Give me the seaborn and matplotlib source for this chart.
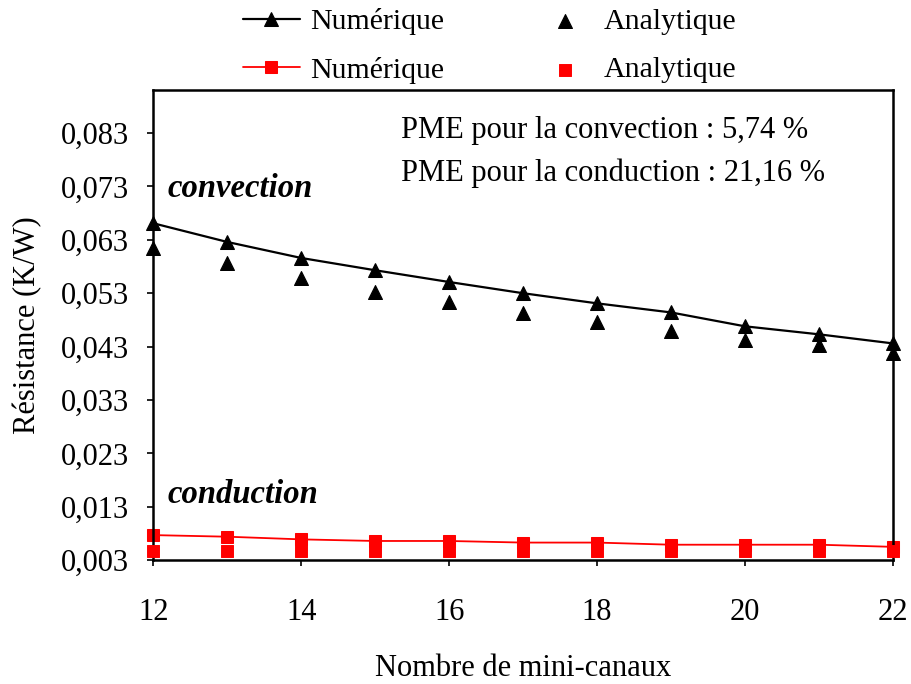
import numpy as np
import pandas as pd
import matplotlib
matplotlib.use("Agg")
import matplotlib.pyplot as plt
import seaborn as sns
from matplotlib.ticker import FuncFormatter, FixedLocator

# Data
canaux = [12, 13, 14, 15, 16, 17, 18, 19, 20, 21, 22]
conv_num = [0.0661, 0.0626, 0.0596, 0.0573, 0.0551, 0.0530, 0.0511, 0.0494, 0.0468, 0.0453, 0.0436]
conv_ana = [0.0614, 0.0586, 0.0558, 0.0532, 0.0513, 0.0493, 0.0476, 0.0459, 0.0442, 0.0433, 0.0418]
cond_num = [0.0077, 0.0074, 0.0069, 0.0066, 0.0066, 0.0063, 0.0063, 0.0059, 0.0059, 0.0059, 0.0055]
cond_ana = [0.0047, 0.0047, 0.0047, 0.0047, 0.0047, 0.0047, 0.0047, 0.0047, 0.0047, 0.0047, 0.0047]

yticks = [0.003, 0.013, 0.023, 0.033, 0.043, 0.053, 0.063, 0.073, 0.083]
xticks = [12, 14, 16, 18, 20, 22]

df = pd.DataFrame({"n": canaux, "conv_num": conv_num, "conv_ana": conv_ana,
                   "cond_num": cond_num, "cond_ana": cond_ana})

sns.set_style("ticks")
plt.rcParams["font.family"] = ["Liberation Serif", "DejaVu Serif"]
plt.rcParams["font.size"] = 22
for k in ["text.color", "axes.labelcolor", "xtick.color", "ytick.color"]:
    plt.rcParams[k] = "black"

fig = plt.figure(figsize=(9.12, 6.84), dpi=100)
ax = fig.add_axes([0.168, 0.181, 0.811, 0.687])

sns.lineplot(data=df, x="n", y="conv_num", ax=ax, color="black", lw=1.6,
             marker="^", markersize=10, markeredgecolor="black", label="Numérique")
sns.scatterplot(data=df, x="n", y="conv_ana", ax=ax, color="black", marker="^",
                s=100, edgecolor="black", label="Analytique", zorder=3)
sns.lineplot(data=df, x="n", y="cond_num", ax=ax, color="red", lw=1.3,
             marker="s", markersize=8.5, markeredgecolor="red", label="Numérique")
sns.scatterplot(data=df, x="n", y="cond_ana", ax=ax, color="red", marker="s",
                s=72, edgecolor="red", label="Analytique", zorder=3)

for art in ax.lines + ax.collections:
    art.set_clip_on(False)

ax.set_xlim(12, 22)
ax.set_ylim(0.003, 0.091)
ax.xaxis.set_major_locator(FixedLocator(xticks))
ax.yaxis.set_major_locator(FixedLocator(yticks))
ax.yaxis.set_major_formatter(FuncFormatter(lambda v, p: f"{v:.3f}".replace(".", ",")))
ax.tick_params(axis="both", labelsize=22, length=4.5, width=1.2, direction="out")
ax.tick_params(axis="x", pad=23)
ax.tick_params(axis="y", pad=13)
for s in ax.spines.values():
    s.set_linewidth(1.8)
    s.set_color("black")

ax.set_xlabel("Nombre de mini-canaux", fontsize=22, labelpad=19)
ax.set_ylabel("Résistance (K/W)", fontsize=22, labelpad=13)

ax.text(12.2, 0.0710, "convection", fontsize=23.5, fontweight="bold", fontstyle="italic", va="baseline")
ax.text(12.2, 0.0137, "conduction", fontsize=23.5, fontweight="bold", fontstyle="italic", va="baseline")
ax.text(15.35, 0.0820, "PME pour la convection : 5,74 %", fontsize=22, va="baseline")
ax.text(15.35, 0.0741, "PME pour la conduction : 21,16 %", fontsize=22, va="baseline")

h, lab = ax.get_legend_handles_labels()
ax.get_legend().remove()
order = [0, 2, 1, 3]
fig.legend([h[i] for i in order], [lab[i] for i in order], ncol=2, frameon=False,
           loc="upper left", bbox_to_anchor=(243 / 912, 1 - 8 / 684), fontsize=21.5,
           columnspacing=3.1, handlelength=1.9, handletextpad=0.35, labelspacing=0.72,
           borderpad=0.0, borderaxespad=0.0)

fig.savefig("out.png", dpi=100)
